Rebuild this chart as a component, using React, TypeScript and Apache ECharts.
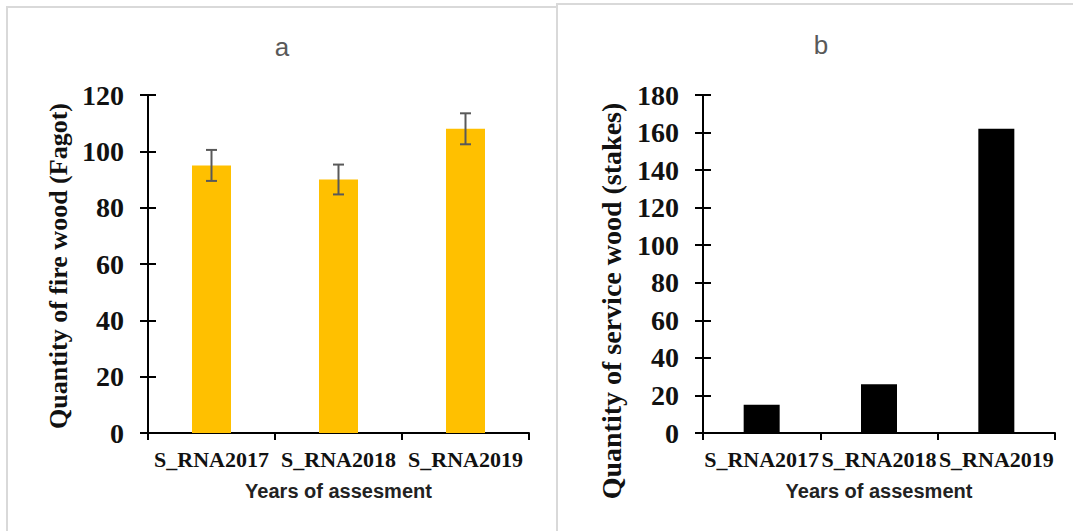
import React, { useEffect, useRef } from "react";
import * as echarts from "echarts";

const categories = ["S_RNA2017", "S_RNA2018", "S_RNA2019"];
const fireWood = [95, 90, 108];
const fireWoodError = [5.5, 5.3, 5.5];
const serviceWood = [15, 26, 162];

const titleA = "a";
const titleB = "b";
const yNameA = "Quantity of fire wood (Fagot)";
const yNameB = "Quantity of service wood (stakes)";
const xName = "Years of assesment";

const serif = "'Liberation Serif', 'Times New Roman', serif";
const sans = "'Liberation Sans', Arial, sans-serif";

export default function App() {
  const ref = useRef<HTMLDivElement>(null);
  useEffect(() => {
    if (!ref.current) return;
    const chart = echarts.init(ref.current, null, { renderer: "svg" });
    const errData = fireWood.map((v, i) => [i, v - fireWoodError[i], v + fireWoodError[i]]);

    const yMain = (gridIndex: number, max: number) => ({
      type: "value",
      gridIndex,
      position: "left",
      min: 0,
      max,
      interval: 20,
      splitLine: { show: false },
      axisLine: { show: true, lineStyle: { color: "#000", width: 2 } },
      axisTick: { show: true, length: 8, lineStyle: { color: "#000", width: 2 } },
      axisLabel: {
        margin: 24,
        color: "#111",
        fontFamily: serif,
        fontWeight: "bold",
        fontSize: 28,
      },
    });
    const yInside = (gridIndex: number, max: number) => ({
      type: "value",
      gridIndex,
      position: "left",
      min: 0,
      max,
      interval: 20,
      splitLine: { show: false },
      axisLine: { show: false },
      axisTick: { show: true, inside: true, length: 8, lineStyle: { color: "#000", width: 2 } },
      axisLabel: { show: false },
    });
    const xCat = (gridIndex: number) => ({
      type: "category",
      gridIndex,
      data: categories,
      axisLine: { show: true, lineStyle: { color: "#000", width: 2 } },
      axisTick: { show: true, length: 7, lineStyle: { color: "#000", width: 2 } },
      axisLabel: {
        margin: 15,
        color: "#111",
        fontFamily: serif,
        fontWeight: "bold",
        fontSize: 22,
        interval: 0,
      },
      name: xName,
      nameLocation: "middle",
      nameGap: 48,
      nameTextStyle: {
        color: "#222",
        fontFamily: sans,
        fontWeight: "bold",
        fontSize: 20,
      },
    });

    chart.setOption({
      animation: false,
      backgroundColor: "#fff",
      grid: [
        { left: 148, top: 95, width: 381, height: 338 },
        { left: 703, top: 95, width: 352, height: 338 },
      ],
      xAxis: [xCat(0), xCat(1)],
      yAxis: [yMain(0, 120), yInside(0, 120), yMain(1, 180), yInside(1, 180)],
      series: [
        {
          type: "bar",
          xAxisIndex: 0,
          yAxisIndex: 0,
          data: fireWood,
          barWidth: 39,
          itemStyle: { color: "#FFC000" },
        },
        {
          type: "custom",
          xAxisIndex: 0,
          yAxisIndex: 0,
          data: errData,
          z: 5,
          renderItem: (params: any, api: any) => {
            const idx = api.value(0);
            const lo = api.coord([idx, api.value(1)]);
            const hi = api.coord([idx, api.value(2)]);
            const half = 5.5;
            const style = { stroke: "#595959", lineWidth: 2 };
            return {
              type: "group",
              children: [
                { type: "line", shape: { x1: lo[0], y1: lo[1], x2: hi[0], y2: hi[1] }, style },
                { type: "line", shape: { x1: hi[0] - half, y1: hi[1], x2: hi[0] + half, y2: hi[1] }, style },
                { type: "line", shape: { x1: lo[0] - half, y1: lo[1], x2: lo[0] + half, y2: lo[1] }, style },
              ],
            };
          },
        },
        {
          type: "bar",
          xAxisIndex: 1,
          yAxisIndex: 2,
          data: serviceWood,
          barWidth: 36,
          itemStyle: { color: "#000" },
        },
      ],
      graphic: [
        {
          type: "rect",
          shape: { x: 7, y: 7, width: 550, height: 540 },
          style: { fill: "none", stroke: "#d9d9d9", lineWidth: 2 },
          z: -1,
        },
        {
          type: "rect",
          shape: { x: 557, y: 4, width: 540, height: 540 },
          style: { fill: "none", stroke: "#d9d9d9", lineWidth: 2 },
          z: -1,
        },
        {
          type: "text",
          x: 282,
          y: 47,
          style: {
            text: titleA,
            fill: "#595959",
            font: `26px ${sans}`,
            textAlign: "center",
            textVerticalAlign: "middle",
          },
        },
        {
          type: "text",
          x: 821,
          y: 45,
          style: {
            text: titleB,
            fill: "#595959",
            font: `26px ${sans}`,
            textAlign: "center",
            textVerticalAlign: "middle",
          },
        },
        {
          type: "text",
          x: 58,
          y: 266,
          rotation: Math.PI / 2,
          style: {
            text: yNameA,
            fill: "#111",
            font: `bold 26px ${serif}`,
            textAlign: "center",
            textVerticalAlign: "middle",
          },
        },
        {
          type: "text",
          x: 611,
          y: 301,
          rotation: Math.PI / 2,
          style: {
            text: yNameB,
            fill: "#111",
            font: `bold 28px ${serif}`,
            textAlign: "center",
            textVerticalAlign: "middle",
          },
        },
      ],
    });
    return () => chart.dispose();
  }, []);
  return (
    <div
      ref={ref}
      style={{ position: "absolute", left: 0, top: 0, width: 1073, height: 531 }}
    />
  );
}
